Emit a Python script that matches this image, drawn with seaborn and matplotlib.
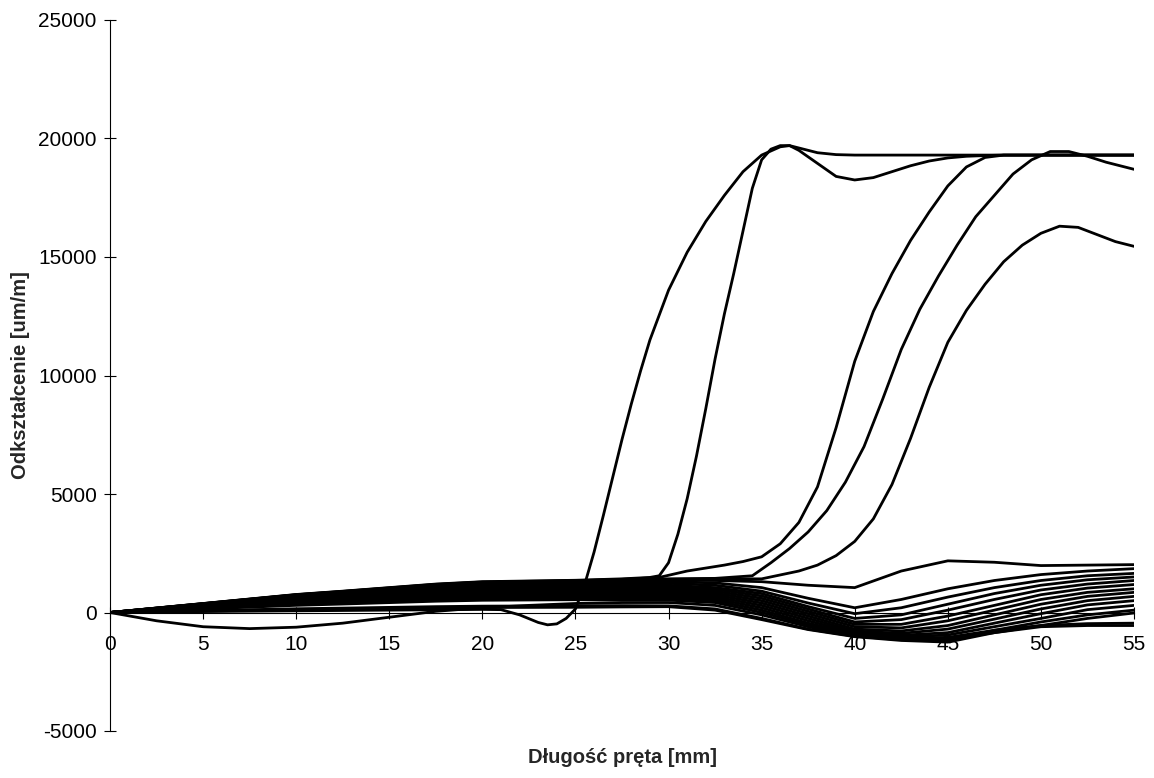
import numpy as np
import pandas as pd
import matplotlib
matplotlib.use('Agg')
import matplotlib.pyplot as plt
import seaborn as sns

# ---- data ----
# band lines share one x grid (mm)
x_band = [0, 2.5, 5, 7.5, 10, 12.5, 15, 17.5, 20, 22.5, 25, 27.5, 30, 32.5, 35,
          37.5, 40, 42.5, 45, 47.5, 50, 52.5, 55]

band_L1 = [0, 180, 360, 545, 725, 860, 1000, 1145, 1240, 1270, 1300, 1330, 1370, 1350, 1300,
           1150, 1050, 1750, 2180, 2120, 1980, 2000, 2020]
band_L2 = [0, 175, 350, 525, 700, 827, 965, 1103, 1195, 1222, 1250, 1290, 1300, 1250, 1050,
           600, 200, 550, 1000, 1350, 1600, 1750, 1850]
band_L3 = [0, 168, 335, 503, 670, 794, 926, 1059, 1147, 1173, 1200, 1220, 1230, 1150, 900,
           400, -50, 200, 650, 1050, 1350, 1550, 1650]
band_L4 = [0, 159, 319, 478, 637, 754, 880, 1006, 1090, 1115, 1140, 1150, 1150, 1050, 800,
           250, -250, -100, 350, 800, 1150, 1380, 1500]
band_L5 = [0, 151, 302, 453, 603, 715, 834, 953, 1032, 1056, 1080, 1080, 1080, 980, 700,
           150, -400, -300, 100, 550, 950, 1200, 1350]
band_L6 = [0, 140, 279, 419, 559, 662, 772, 882, 956, 978, 1000, 1000, 1000, 900, 600,
           50, -500, -500, -150, 300, 750, 1030, 1180]
band_L7 = [0, 130, 260, 390, 520, 616, 718, 821, 889, 910, 930, 930, 920, 820, 500,
           -50, -600, -650, -350, 100, 550, 850, 1000]
band_L8 = [0, 120, 240, 360, 481, 569, 664, 759, 822, 841, 860, 850, 840, 740, 400,
           -150, -700, -780, -550, -100, 350, 680, 850]
band_L9 = [0, 109, 218, 327, 436, 516, 602, 688, 746, 763, 780, 770, 760, 660, 300,
           -250, -780, -880, -700, -280, 150, 500, 680]
band_L10 = [0, 98, 196, 293, 391, 463, 540, 618, 669, 685, 700, 690, 680, 580, 200,
            -350, -850, -960, -850, -450, -50, 320, 500]
band_L11 = [0, 87, 173, 260, 347, 410, 479, 547, 593, 606, 620, 610, 600, 500, 100,
            -450, -900, -1030, -950, -600, -250, 120, 300]
band_L12 = [0, 75, 151, 226, 302, 357, 417, 476, 516, 528, 540, 530, 520, 420, 0,
            -520, -950, -1080, -1050, -750, -400, -100, 100]
band_L13 = [0, -350, -600, -680, -620, -450, -200, 50, 200, 300, 380, 420, 420, 300, -100,
            -600, -1000, -1120, -1120, -850, -550, -250, -20]
band_L14 = [0, 39, 78, 118, 157, 185, 216, 247, 268, 274, 280, 290, 280, 150, -250,
            -700, -1000, -1150, -1200, -750, -550, -470, -450]
band_L15 = [0, 31, 61, 92, 123, 146, 170, 194, 210, 215, 220, 235, 245, 100, -300,
            -720, -1020, -1180, -1250, -850, -600, -550, -550]

# the five curves that climb to the plateau
x_c1 = [0, 5, 10, 15, 20, 21, 22, 23, 23.5, 24, 24.5, 25, 25.5, 26, 26.5, 27, 27.5, 28,
        28.5, 29, 30, 31, 32, 33, 34, 35, 36, 36.5, 37, 38, 39, 40, 45, 50, 55]
y_c1 = [0, 40, 70, 100, 130, 120, -100, -420, -520, -480, -250, 150, 1200, 2550, 4100,
        5700, 7300, 8800, 10200, 11500, 13600, 15200, 16500, 17600, 18600, 19300, 19650,
        19700, 19600, 19400, 19320, 19300, 19300, 19300, 19300]

x_c2 = [0, 2.5, 5, 7.5, 10, 12.5, 15, 17.5, 20, 22.5, 25, 27.5, 29, 29.5, 30, 30.5, 31,
        31.5, 32, 32.5, 33, 33.5, 34, 34.5, 35, 35.5, 36, 36.5, 37, 38, 39, 40, 41, 42,
        43, 44, 45, 46, 47, 48, 50, 55]
y_c2 = [0, 190, 380, 570, 760, 900, 1050, 1200, 1300, 1330, 1360, 1420, 1480, 1550, 2100,
        3300, 4800, 6600, 8600, 10700, 12600, 14300, 16100, 17900, 19100, 19550, 19700,
        19700, 19500, 18950, 18400, 18250, 18350, 18600, 18850, 19050, 19180, 19250,
        19280, 19300, 19300, 19300]

x_c3 = [0, 2.5, 5, 7.5, 10, 12.5, 15, 17.5, 20, 22.5, 25, 27.5, 29.5, 31, 33, 34, 35,
        36, 37, 38, 39, 40, 41, 42, 43, 44, 45, 46, 47, 48, 50, 55]
y_c3 = [0, 188, 376, 564, 752, 891, 1040, 1188, 1287, 1317, 1346, 1400, 1480, 1750, 2000,
        2150, 2350, 2900, 3800, 5300, 7800, 10600, 12700, 14300, 15700, 16900, 18000,
        18800, 19200, 19300, 19300, 19300]

x_c4 = [0, 2.5, 5, 7.5, 10, 12.5, 15, 17.5, 20, 22.5, 25, 27.5, 30, 32.5, 34.5, 35.5,
        36.5, 37.5, 38.5, 39.5, 40.5, 41.5, 42.5, 43.5, 44.5, 45.5, 46.5, 47.5, 48.5,
        49.5, 50.5, 51.5, 52.5, 53.5, 55]
y_c4 = [0, 186, 372, 559, 745, 882, 1029, 1176, 1274, 1303, 1333, 1390, 1420, 1440, 1550,
        2100, 2700, 3400, 4300, 5500, 7000, 9000, 11100, 12800, 14200, 15500, 16700,
        17600, 18500, 19100, 19450, 19450, 19250, 19000, 18700]

x_c5 = [0, 2.5, 5, 7.5, 10, 12.5, 15, 17.5, 20, 22.5, 25, 27.5, 30, 32.5, 35, 37, 38, 39,
        40, 41, 42, 43, 44, 45, 46, 47, 48, 49, 50, 51, 52, 53, 54, 55]
y_c5 = [0, 184, 368, 553, 737, 873, 1018, 1164, 1261, 1290, 1319, 1370, 1400, 1420, 1420,
        1750, 2000, 2400, 3000, 3950, 5400, 7350, 9500, 11400, 12750, 13850, 14800,
        15500, 16000, 16300, 16250, 15950, 15650, 15450]

# ---- long table for seaborn ----
frames = []
band = [band_L1, band_L2, band_L3, band_L4, band_L5, band_L6, band_L7, band_L8,
        band_L9, band_L10, band_L11, band_L12, band_L13, band_L14, band_L15]
for i, yv in enumerate(band):
    frames.append(pd.DataFrame({'x': x_band, 'y': yv, 'curve': f'L{i + 1}'}))
risers = [(x_c1, y_c1), (x_c2, y_c2), (x_c3, y_c3), (x_c4, y_c4), (x_c5, y_c5)]
for i, (xv, yv) in enumerate(risers):
    frames.append(pd.DataFrame({'x': xv, 'y': yv, 'curve': f'C{i + 1}'}))
df = pd.concat(frames, ignore_index=True)

# ---- plot ----
sns.set_style('white')
plt.rcParams['font.family'] = ['Liberation Sans', 'DejaVu Sans']
plt.rcParams['axes.unicode_minus'] = False

fig = plt.figure(figsize=(11.54, 7.78), dpi=100)
ax = fig.add_axes([110 / 1154, 47 / 778, 1024 / 1154, 711 / 778])

sns.lineplot(data=df, x='x', y='y', units='curve', estimator=None, sort=False,
             color='black', linewidth=2.0, legend=False, ax=ax)

ax.set_xlim(0, 55)
ax.set_ylim(-5000, 25000)
ax.set_xticks(np.arange(0, 56, 5))
ax.set_yticks(np.arange(-5000, 25001, 5000))

for side in ['top', 'right']:
    ax.spines[side].set_visible(False)
ax.spines['bottom'].set_position(('data', 0))
for side in ['left', 'bottom']:
    ax.spines[side].set_linewidth(0.8)
    ax.spines[side].set_color('black')

# seaborn's white style hides tick marks; the original has crossing ticks
ax.tick_params(axis='both', direction='inout', length=9, width=0.8,
               colors='black', labelsize=15, bottom=True, left=True)
ax.tick_params(axis='x', pad=12)
ax.tick_params(axis='y', pad=5)

ax.set_xlabel('Długość pręta [mm]', fontsize=14.5, fontweight='bold')
ax.set_ylabel('Odkształcenie [um/m]', fontsize=14.5, fontweight='bold')
ax.xaxis.set_label_coords(0.5, -0.024)
ax.yaxis.set_label_coords(-0.078, 0.5)

fig.savefig('out.png', dpi=100, facecolor='white')
